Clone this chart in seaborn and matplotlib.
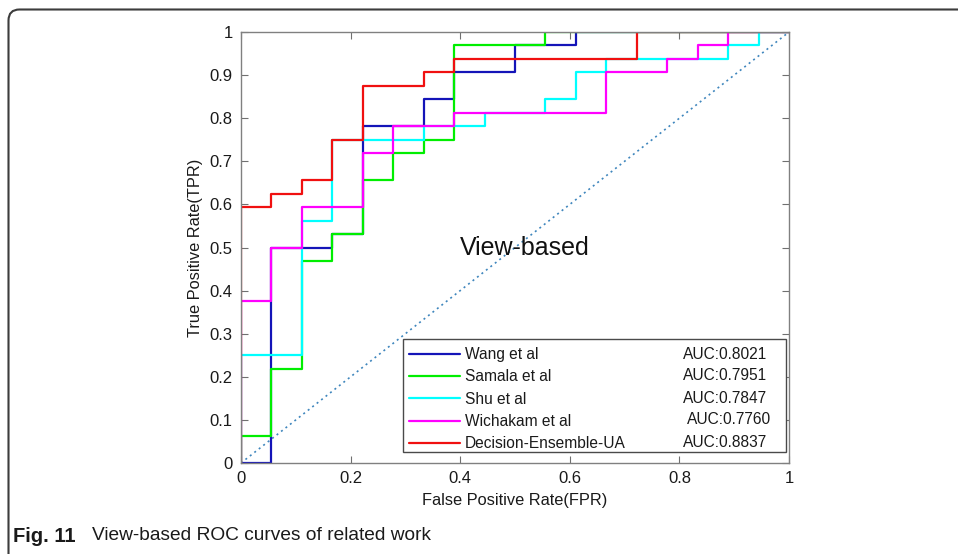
import matplotlib
matplotlib.use("Agg")
import matplotlib.pyplot as plt
from matplotlib.patches import FancyBboxPatch, Rectangle
from matplotlib.lines import Line2D
import numpy as np
import pandas as pd
import seaborn as sns

# ROC corner points (FPR, TPR) for each method, drawn as post-steps
wang_fpr = [0.0, 0.0556, 0.1667, 0.2222, 0.3333, 0.3889, 0.5, 0.6111, 1.0]
wang_tpr = [0.0, 0.5, 0.5313, 0.7813, 0.8438, 0.9063, 0.9688, 1.0, 1.0]

samala_fpr = [0.0, 0.0, 0.0556, 0.1111, 0.1667, 0.2222, 0.2778, 0.3333, 0.3889, 0.5556, 1.0]
samala_tpr = [0.0, 0.0625, 0.2188, 0.4688, 0.5313, 0.6563, 0.7188, 0.75, 0.9688, 1.0, 1.0]

shu_fpr = [0.0, 0.0, 0.1111, 0.1667, 0.3333, 0.4444, 0.5556, 0.6111, 0.6667, 0.8889, 0.9444, 1.0]
shu_tpr = [0.0, 0.25, 0.5625, 0.75, 0.7813, 0.8125, 0.8438, 0.9063, 0.9375, 0.9688, 1.0, 1.0]

wichakam_fpr = [0.0, 0.0, 0.0556, 0.1111, 0.2222, 0.2778, 0.3889, 0.6667, 0.7778, 0.8333, 0.8889, 1.0]
wichakam_tpr = [0.0, 0.375, 0.5, 0.5938, 0.7188, 0.7813, 0.8125, 0.9063, 0.9375, 0.9688, 1.0, 1.0]

ensemble_fpr = [0.0, 0.0, 0.0556, 0.1111, 0.1667, 0.2222, 0.3333, 0.3889, 0.7222, 1.0]
ensemble_tpr = [0.0, 0.5938, 0.625, 0.6563, 0.75, 0.875, 0.9063, 0.9375, 1.0, 1.0]

method_names = ["Wang et al", "Samala et al", "Shu et al", "Wichakam et al", "Decision-Ensemble-UA"]
auc_labels = ["AUC:0.8021", "AUC:0.7951", "AUC:0.7847", "AUC:0.7760", "AUC:0.8837"]
line_colors = ["#1414b8", "#00ee00", "#00ffff", "#ff00ff", "#f01010"]

x_ticks = [0, 0.2, 0.4, 0.6, 0.8, 1]
x_tick_labels = ["0", "0.2", "0.4", "0.6", "0.8", "1"]
y_ticks = [0, 0.1, 0.2, 0.3, 0.4, 0.5, 0.6, 0.7, 0.8, 0.9, 1]
y_tick_labels = ["0", "0.1", "0.2", "0.3", "0.4", "0.5", "0.6", "0.7", "0.8", "0.9", "1"]

chance_x = [0, 1]
chance_y = [0, 1]

curves = [
    (wang_fpr, wang_tpr),
    (samala_fpr, samala_tpr),
    (shu_fpr, shu_tpr),
    (wichakam_fpr, wichakam_tpr),
    (ensemble_fpr, ensemble_tpr),
]

sns.set_theme(style="white")
plt.rcParams["font.family"] = ["Liberation Sans", "DejaVu Sans"]

fig = plt.figure(figsize=(9.58, 5.54), dpi=100)
ax = fig.add_axes([241 / 958, 1 - 463 / 554, 548 / 958, 431 / 554])

# chance diagonal
sns.lineplot(x=chance_x, y=chance_y, ax=ax, color="#3f86bd", linestyle=(0, (1.2, 2.2)),
             linewidth=1.2, estimator=None, sort=False, zorder=1)

handles = []
for (fpr, tpr), name, color in zip(curves, method_names, line_colors):
    df = pd.DataFrame({"fpr": fpr, "tpr": tpr})
    sns.lineplot(data=df, x="fpr", y="tpr", ax=ax, color=color, linewidth=1.6,
                 estimator=None, sort=False, drawstyle="steps-post", zorder=2)
    handles.append(Line2D([0], [0], color=color, linewidth=1.6))

ax.set_xlim(0, 1)
ax.set_ylim(0, 1)
ax.set_xticks(x_ticks)
ax.set_xticklabels(x_tick_labels)
ax.set_yticks(y_ticks)
ax.set_yticklabels(y_tick_labels)
ax.tick_params(axis="both", which="both", direction="in", length=5, width=0.8,
               color="#707070", labelsize=12, labelcolor="#1a1a1a",
               top=True, right=True, bottom=True, left=True, pad=6)
for sp in ax.spines.values():
    sp.set_color("#808080")
    sp.set_linewidth(1.0)
    sp.set_visible(True)

ax.set_xlabel("False Positive Rate(FPR)", fontsize=11.8, color="#1a1a1a", labelpad=5)
ax.set_ylabel("True Positive Rate(TPR)", fontsize=11.8, color="#1a1a1a", labelpad=5)

ax.text(0.518, 0.499, "View-based", fontsize=18, color="#111111",
        ha="center", va="center", transform=ax.transAxes)

# legend box drawn separately so the rows sit a little low inside it
legend_box = Rectangle((0.2956, 0.0255), 0.6989, 0.2622, transform=ax.transAxes,
                       facecolor="white", edgecolor="#4a4a4a", linewidth=1.0, zorder=4)
ax.add_patch(legend_box)

leg = ax.legend(handles, method_names, loc="lower left",
                bbox_to_anchor=(0.2956, 0.0139, 0.699, 0.262), mode="expand",
                borderaxespad=0, fontsize=11.2, labelspacing=0.47, borderpad=0.36,
                handlelength=3.3, handletextpad=0.3, frameon=False)
leg.set_zorder(5)
for t in leg.get_texts():
    t.set_color("#1a1a1a")

auc_x = [0.8066, 0.8066, 0.8066, 0.8139, 0.8066]
auc_y = [0.2529, 0.2019, 0.1508, 0.0998, 0.0487]
for label, xx, yy in zip(auc_labels, auc_x, auc_y):
    ax.text(xx, yy, label, fontsize=11.2, color="#1a1a1a", ha="left", va="center",
            transform=ax.transAxes, zorder=6)

# page frame with rounded top-left corner
frame = FancyBboxPatch((8.5, -30), 1100, 554 - 9.5 + 30,
                       boxstyle="round,pad=0,rounding_size=11", transform=None,
                       edgecolor="#3c3c3c", facecolor="none", linewidth=1.5)
fig.add_artist(frame)

fig.text(13 / 958, 1 - 536 / 554, "Fig. 11", fontsize=14.5, fontweight="bold",
         color="#1a1a1a", ha="left", va="center")
fig.text(92 / 958, 1 - 536 / 554, "View-based ROC curves of related work", fontsize=13.8,
         color="#1a1a1a", ha="left", va="center")

fig.savefig("out.png", dpi=100)
